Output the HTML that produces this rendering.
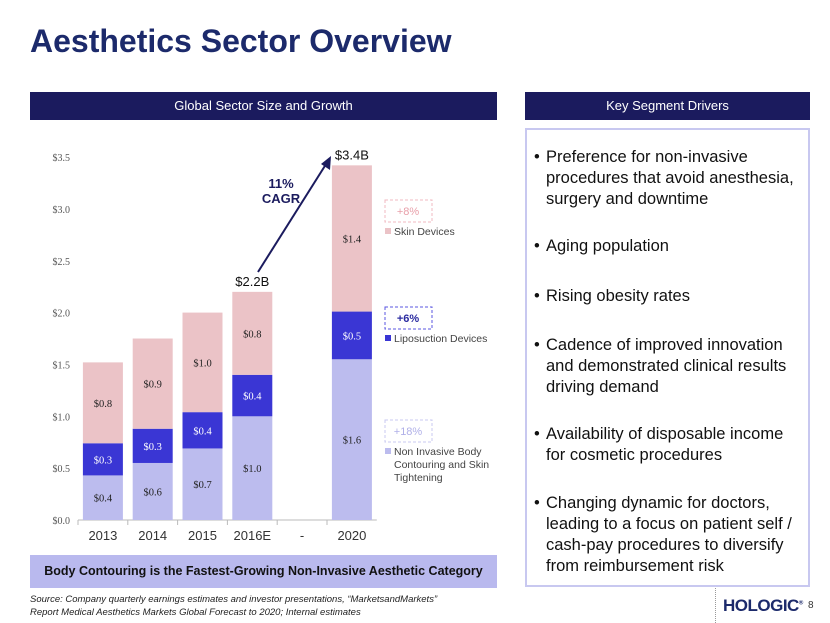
<!DOCTYPE html>
<html><head><meta charset="utf-8">
<style>
body{margin:0;width:830px;height:623px;background:#fff;position:relative;overflow:hidden;font-family:"Liberation Sans",sans-serif}
.abs{position:absolute}
.hdr{background:#1b1b5e;color:#fff;font-size:13px;text-align:center;line-height:28px;height:28px}
.bl{position:absolute;left:534px;font-size:16.5px;color:#111;line-height:21px;width:275px;padding-left:12px;white-space:nowrap}
.bl:before{content:"•";position:absolute;left:0}
</style></head><body>
<div class="abs" style="left:30px;top:23px;font-size:32px;font-weight:bold;color:#1c2a6b">Aesthetics Sector Overview</div>
<div class="abs hdr" style="left:30px;top:92px;width:467px">Global Sector Size and Growth</div>
<div class="abs hdr" style="left:525px;top:92px;width:285px">Key Segment Drivers</div>
<div class="abs" style="left:525px;top:128px;width:281px;height:455px;border:2px solid #c8c8f0"></div>
<div class="bl" style="top:147px">Preference for non-invasive<br>procedures that avoid anesthesia,<br>surgery and downtime</div>
<div class="bl" style="top:236px">Aging population</div>
<div class="bl" style="top:286px">Rising obesity rates</div>
<div class="bl" style="top:335px">Cadence of improved innovation<br>and demonstrated clinical results<br>driving demand</div>
<div class="bl" style="top:424px">Availability of disposable income<br>for cosmetic procedures</div>
<div class="bl" style="top:493px">Changing dynamic for doctors,<br>leading to a focus on patient self /<br>cash-pay procedures to diversify<br>from reimbursement risk</div>
<div class="abs" style="left:30px;top:555px;width:467px;height:33px;background:#b9b9ee;text-align:center;line-height:33px;font-size:12.5px;font-weight:bold;color:#111">Body Contouring is the Fastest-Growing Non-Invasive Aesthetic Category</div>
<div class="abs" style="left:30px;top:593px;font-size:9.5px;font-style:italic;color:#222;line-height:13px">Source: Company quarterly earnings estimates and investor presentations, “MarketsandMarkets”<br>Report Medical Aesthetics Markets Global Forecast to 2020; Internal estimates</div>
<div class="abs" style="left:723px;top:596px;font-size:17px;font-weight:bold;color:#1c2a6b;letter-spacing:-0.5px">HOLOGIC<sup style="font-size:6px">®</sup></div>
<div class="abs" style="left:715px;top:588px;height:35px;border-left:1px dotted #999"></div>
<div class="abs" style="left:808px;top:600px;font-size:10px;color:#333">8</div>
<svg class="abs" style="left:0;top:0" width="830" height="623" id="chart"></svg>
<script>
const categories=["2013","2014","2015","2016E","-","2020"];
const bodyVals=[0.43,0.55,0.69,1.0,null,1.55];
const lipoVals=[0.31,0.33,0.35,0.40,null,0.46];
const skinVals=[0.78,0.87,0.96,0.80,null,1.41];
const bodyLabels=["$0.4","$0.6","$0.7","$1.0","","$1.6"];
const lipoLabels=["$0.3","$0.3","$0.4","$0.4","","$0.5"];
const skinLabels=["$0.8","$0.9","$1.0","$0.8","","$1.4"];
const yTicks=[0,0.5,1,1.5,2,2.5,3,3.5];
const svg=document.getElementById('chart');const NS="http://www.w3.org/2000/svg";
const y0=520,ppu=103.7,xs=78,slot=49.8,bw=40;
const Y=v=>y0-v*ppu, X=i=>xs+slot*i+(slot-bw)/2;
function mk(t,a,p){const e=document.createElementNS(NS,t);for(const k in a)e.setAttribute(k,a[k]);(p||svg).appendChild(e);return e;}
yTicks.forEach(v=>{const t=mk('text',{x:70,y:Y(v)+4,'text-anchor':'end','font-size':10,fill:'#555','font-family':'Liberation Serif, serif'});t.textContent='$'+v.toFixed(1);

});
const ax=mk('line',{x1:xs,x2:xs+slot*6,y1:y0,y2:y0,stroke:'#bbb'});


categories.forEach((c,i)=>{mk('line',{x1:xs+slot*i,x2:xs+slot*i,y1:y0,y2:y0+5,stroke:'#bbb'});
const t=mk('text',{x:xs+slot*i+slot/2,y:y0+20,'text-anchor':'middle','font-size':13,fill:'#333'});t.textContent=c;


if(bodyVals[i]==null)return;
let base=0;
[[bodyVals,'#bcbcee',bodyLabels,'#222','bar-body-contouring'],[lipoVals,'#3a36d4',lipoLabels,'#fff','bar-liposuction'],[skinVals,'#ebc3c7',skinLabels,'#222','bar-skin-devices']].forEach(([arr,col,lab,tc,nm])=>{
const v=arr[i];const r=mk('rect',{x:X(i),y:Y(base+v),width:bw,height:v*ppu,fill:col});


const t2=mk('text',{x:X(i)+bw/2,y:Y(base+v/2)+4,'text-anchor':'middle','font-size':10.5,fill:tc,'font-family':'Liberation Serif, serif'});t2.textContent=lab[i];


base+=v;});});
const tot=i=>bodyVals[i]+lipoVals[i]+skinVals[i];
[[3,'$2.2B'],[5,'$3.4B']].forEach(([i,s])=>{const t=mk('text',{x:X(i)+bw/2,y:Y(tot(i))-6,'text-anchor':'middle','font-size':13,fill:'#111'});t.textContent=s;

});
const ar=mk('line',{x1:258,y1:272,x2:328,y2:161,stroke:'#1b1b5e','stroke-width':2});


mk('polygon',{points:'331,156 330,170 321,164',fill:'#1b1b5e'});
const cg=mk('text',{x:281,y:188,'text-anchor':'middle','font-size':13,'font-weight':'bold',fill:'#1b1b5e'});cg.innerHTML='<tspan x="281">11%</tspan><tspan x="281" dy="15">CAGR</tspan>';


[[200,'+8%','#f0b8c0','#e8a0aa',"Skin Devices",'#ebc3c7'],[307,'+6%','#5a56e0','#2a2aa0',"Liposuction Devices",'#3a36d4'],[420,'+18%','#c8c8f0','#b0b0e8',"Non Invasive Body",'#bcbcee']].forEach(([y,g,bc,tc,lab,sw])=>{
const b=mk('rect',{x:385,y:y,width:47,height:22,fill:'none',stroke:bc,'stroke-dasharray':'3,2'});


const t=mk('text',{x:408,y:y+15,'text-anchor':'middle','font-size':11,fill:tc,'font-weight':g=='+6%'?'bold':'normal'});t.textContent=g;
mk('rect',{x:385,y:y+28,width:6,height:6,fill:sw});
const l=mk('text',{x:394,y:y+35,'font-size':10.5,fill:'#444'});l.textContent=lab;

});
[['Contouring and Skin',468],['Tightening',481]].forEach(([s,y])=>{const l=mk('text',{x:394,y:y,'font-size':10.5,fill:'#444'});l.textContent=s;});
</script>
</body></html>
